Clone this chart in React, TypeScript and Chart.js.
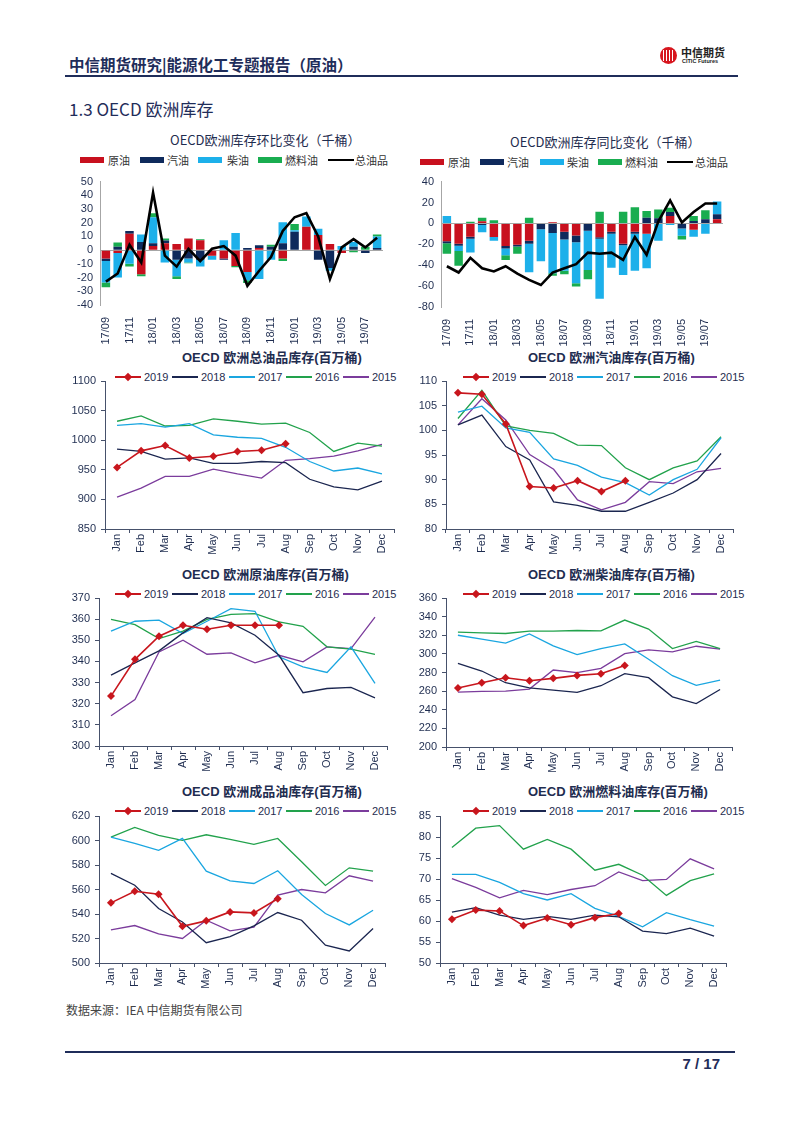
import React, { useEffect, useRef } from "react";
import { Chart, registerables } from "chart.js";

Chart.register(...registerables);

// ---------------- data ----------------
const CHANGE_LABELS = ["17/09", "17/10", "17/11", "17/12", "18/01", "18/02", "18/03", "18/04", "18/05", "18/06", "18/07", "18/08", "18/09", "18/10", "18/11", "18/12", "19/01", "19/02", "19/03", "19/04", "19/05", "19/06", "19/07", "19/08"];
const MONTH_LABELS = ["Jan", "Feb", "Mar", "Apr", "May", "Jun", "Jul", "Aug", "Sep", "Oct", "Nov", "Dec"];
const PRODUCT_NAMES = ["原油", "汽油", "柴油", "燃料油", "总油品"];
const YEAR_NAMES = ["2019", "2018", "2017", "2016", "2015"];

// 环比 (MoM)
const MOM_CRUDE = [-6, -2, 12, -17.5, 3, 5, 4.5, 8.5, 7.3, -4, -6, -11.5, -16, 1.5, 0, -6, 0, 17, 11, 4.5, -2, 0, 0, 0];
const MOM_GASOLINE = [-2, 2.5, 2, 6, 2, 2, -7, -6, -7, 0, -1, 0, 1.5, 2, 2.5, 5, 13.5, 0, -7, -13, 0, 2.5, -2, 1.5];
const MOM_DIESEL = [-15.5, -18, -10, 5.5, 19, -9, -12, -3, -5, -3, 7.3, 12.5, -6, -21, -7, 15.4, 1, 7.5, 4.6, -2, 3, 3.5, 0, 8.5];
const MOM_FUEL = [-3.5, 3, -2, -1.5, 3, 1.5, -2, -0.5, 0.7, 0, 0, -1, -2, 0, 1.5, -2, 4.5, 0, 0, 0, 0, -1.5, 2.5, 1.5];
const MOM_TOTAL = [-23, -17, 4, -9, 42, -4, -12, 1, -8, 1, 3, -4, -26, -15, -5, 14, 24, 27, 10, -21, 2, 8, 2, 9];

// 同比 (YoY)
const YOY_CRUDE = [-17, -19.5, -12.7, 2, -13, -21.7, -20.5, -16.5, 0, 1, -8, -11.6, 0, -13.3, -8, -19.5, -8, -10, 0, 7, 0, -6, 0, 4];
const YOY_GASOLINE = [-2, -2, -2, -1.5, 0, -2.3, -1.5, -3, -5.5, -9.2, -7.5, -6.4, -7, -1.5, -2, -1.5, -2, 5.5, 5, 3.8, -4.8, 2.4, 4, 4.7];
const YOY_DIESEL = [7, -5, -13.2, -7, -3.5, -6.5, 0, -27.3, -30.7, -38.6, -29.8, -39.2, -37.6, -57.2, -32.4, -28.3, -35.2, -33, -16.5, -1.5, -6.9, -6.7, -10, 12.2];
const YOY_FUEL = [-10, -14, 1.5, 3.5, 3, -4.5, -7, 5.5, 0, -2.2, -3.4, -3.1, -8.8, 11.2, 0, 11.2, 15.5, 6.3, 8.3, 4.2, -3.8, 4.7, 8.7, 0];
const YOY_TOTAL = [-41, -47, -33, -43, -46, -41, -48, -54, -59, -47, -43, -39, -28, -29, -28, -35, -13, -30, 2, 22, 1, 11, 19, 19];

// 总油品库存
const TOTAL_2019 = [954, 982, 991, 970, 973, 981, 983, 994];
const TOTAL_2018 = [985, 981, 968, 970, 961, 961, 964, 962, 934, 921, 916, 931];
const TOTAL_2017 = [1025, 1028, 1022, 1028, 1009, 1005, 1003, 988, 964, 948, 953, 943];
const TOTAL_2016 = [1032, 1041, 1024, 1025, 1036, 1032, 1027, 1029, 1013, 981, 995, 990];
const TOTAL_2015 = [904, 919, 939, 939, 951, 943, 936, 966, 969, 973, 982, 993];

// 汽油库存
const GASOLINE_2019 = [107.6, 107.3, 101.3, 88.6, 88.3, 89.8, 87.6, 89.8];
const GASOLINE_2018 = [101.1, 103.1, 96.7, 94.0, 85.5, 84.8, 83.6, 83.6, 85.4, 87.3, 90.0, 95.3];
const GASOLINE_2017 = [103.7, 104.9, 100.5, 99.6, 94.2, 92.9, 90.5, 89.4, 86.9, 90.0, 92.1, 98.5];
const GASOLINE_2016 = [102.4, 108.1, 100.9, 100.0, 99.4, 97.0, 96.9, 92.4, 90.0, 92.4, 93.8, 98.7];
const GASOLINE_2015 = [101.1, 106.4, 102.1, 95.1, 92.1, 85.9, 83.9, 85.4, 89.6, 89.2, 91.6, 92.3];

// 原油库存
const CRUDE_2019 = [323.6, 341, 351.9, 357.1, 355.2, 357.1, 357.1, 357.1];
const CRUDE_2018 = [333.5, 339.3, 345, 353.5, 360.7, 358.2, 352.4, 342.9, 325.2, 327.2, 327.7, 322.8];
const CRUDE_2017 = [354.3, 359, 359.5, 353.2, 359, 365, 363.7, 342.2, 337.4, 334.8, 346.9, 329.6];
const CRUDE_2016 = [359.9, 357.4, 350.8, 354.3, 359.9, 362.3, 362.6, 358.7, 356.6, 346.9, 345.8, 343.3];
const CRUDE_2015 = [314.3, 322, 344.5, 350, 343.4, 344, 339.3, 342.9, 339.8, 346.9, 346.1, 361];

// 柴油库存
const DIESEL_2019 = [263.3, 269, 274.4, 271.2, 273.7, 276.9, 278.7, 287.4];
const DIESEL_2018 = [289.9, 281.6, 269, 263.6, 261.1, 258.6, 265.8, 278.7, 274.4, 253.9, 246.7, 261.8];
const DIESEL_2017 = [320, 315.8, 311.5, 321.5, 308.6, 299.2, 305.7, 310.7, 294.2, 276.6, 266.1, 271.9];
const DIESEL_2016 = [323.3, 322.6, 321.9, 324.4, 324.4, 325.1, 324.8, 336.3, 326.6, 305.7, 313.3, 305.7];
const DIESEL_2015 = [259, 259.7, 260, 262.2, 282.7, 279.8, 284.5, 300.3, 304.3, 302.1, 308.2, 305];

// 成品油库存
const PRODUCTS_2019 = [549.1, 558.6, 556.2, 530, 534.4, 541.7, 540.9, 552.4];
const PRODUCTS_2018 = [573.1, 563.5, 544.5, 533.5, 516.6, 521.6, 530.3, 541.2, 534.9, 514.5, 509.8, 528.1];
const PRODUCTS_2017 = [602.8, 597.6, 591.9, 601.7, 575, 567.1, 564.9, 575.3, 555.9, 540.4, 531.1, 543.1];
const PRODUCTS_2016 = [602.8, 610.7, 604.2, 600.1, 604.7, 600.9, 596.8, 601.7, 582.6, 563.3, 577.7, 575];
const PRODUCTS_2015 = [527, 530.6, 523.7, 520, 534.9, 526.2, 529.2, 555.4, 560, 557.3, 571.2, 566.8];

// 燃料油库存
const FUEL_2019 = [60.4, 62.6, 62.4, 58.9, 60.7, 59.1, 60.8, 61.8];
const FUEL_2018 = [62.1, 63.2, 61.4, 60.4, 61.1, 60.4, 61.4, 61.0, 57.6, 57.0, 58.3, 56.4];
const FUEL_2017 = [71.1, 71.1, 69.2, 66.5, 65.0, 66.5, 63.0, 61.1, 58.6, 62.0, 60.3, 58.8];
const FUEL_2016 = [77.5, 82.1, 82.7, 77.1, 79.4, 77.1, 72.1, 73.5, 70.9, 66.1, 69.6, 71.2];
const FUEL_2015 = [70.1, 68.0, 65.5, 67.3, 66.3, 67.5, 68.4, 71.7, 69.6, 69.9, 74.8, 72.4];

// ---------------- styles ----------------
const TXT = "#1F2D50";
const AXIS = "#46516B";
const FONT_LATIN = "'Liberation Sans', Arial, 'Noto Sans CJK SC', sans-serif";
const FONT_CJK = "'Noto Sans CJK SC', 'Liberation Sans', sans-serif";
const BAR_COLORS = ["#C8101E", "#0F2A5C", "#1DB0EA", "#19AD50"];
const YEAR_COLORS = ["#C8161D", "#1B2650", "#1AA6E0", "#22A24C", "#7B3C9C"];

type Geo = { cx: number; cy: number; w: number; h: number; pl: number; pr: number; pt: number; pb: number };

function padding(g: Geo) {
  return { left: 0, top: g.pt - g.cy, right: g.cx + g.w - g.pr, bottom: 0 };
}

const plainNumber = (v: any) => String(v);

function barConfig(g: Geo, series: number[][], total: number[], min: number, max: number, step: number) {
  const datasets: any[] = series.map((d, i) => ({
    type: "bar",
    label: PRODUCT_NAMES[i],
    data: d,
    backgroundColor: BAR_COLORS[i],
    borderWidth: 0,
    barPercentage: 0.72,
    categoryPercentage: 1,
    stack: "s",
    order: 1,
  }));
  datasets.push({
    type: "line",
    label: PRODUCT_NAMES[4],
    data: total,
    borderColor: "#000000",
    borderWidth: 2.6,
    pointRadius: 0,
    tension: 0,
    fill: false,
    stack: "t",
    order: 0,
  });
  return {
    type: "bar",
    data: { labels: CHANGE_LABELS, datasets },
    options: {
      responsive: false,
      animation: false,
      devicePixelRatio: 1,
      layout: { padding: padding(g) },
      plugins: { legend: { display: false }, title: { display: false }, tooltip: { enabled: false } },
      scales: {
        x: {
          stacked: true,
          grid: { display: false },
          border: { display: false },
          ticks: {
            autoSkip: false,
            minRotation: 90,
            maxRotation: 90,
            padding: 4,
            color: TXT,
            font: { family: FONT_LATIN, size: 11 },
            callback: (_v: any, i: number) => (i % 2 === 0 ? CHANGE_LABELS[i] : ""),
          },
          afterFit: (s: any) => { s.height = g.cy + g.h - g.pb; },
        },
        y: {
          stacked: true,
          min,
          max,
          ticks: { stepSize: step, autoSkip: false, padding: 7, color: TXT, font: { family: FONT_LATIN, size: 11 }, callback: plainNumber },
          grid: {
            drawTicks: false,
            lineWidth: 1,
            color: (c: any) => (c.tick && c.tick.value === 0 ? "#A6A6A6" : "rgba(0,0,0,0)"),
          },
          border: { display: true, color: "#A6A6A6" },
          afterFit: (s: any) => { s.width = g.pl - g.cx; },
        },
      },
    },
  };
}

function lineConfig(g: Geo, series: number[][], min: number, max: number, step: number) {
  const datasets = series.map((d, i) => ({
    label: YEAR_NAMES[i],
    data: d,
    borderColor: YEAR_COLORS[i],
    backgroundColor: YEAR_COLORS[i],
    borderWidth: i === 0 ? 1.6 : 1.3,
    pointRadius: i === 0 ? 4 : 0,
    pointStyle: "rectRot",
    pointBorderWidth: 0,
    tension: 0,
    fill: false,
    order: i === 0 ? 0 : i,
  }));
  return {
    type: "line",
    data: { labels: MONTH_LABELS, datasets },
    options: {
      responsive: false,
      animation: false,
      devicePixelRatio: 1,
      layout: { padding: padding(g) },
      plugins: { legend: { display: false }, title: { display: false }, tooltip: { enabled: false } },
      scales: {
        x: {
          offset: true,
          grid: { display: true, drawOnChartArea: false, drawTicks: true, tickLength: 4, color: AXIS, offset: true },
          border: { display: true, color: AXIS },
          ticks: {
            autoSkip: false,
            minRotation: 90,
            maxRotation: 90,
            padding: 1,
            color: TXT,
            font: { family: FONT_LATIN, size: 11 },
          },
          afterFit: (s: any) => { s.height = g.cy + g.h - g.pb; },
        },
        y: {
          min,
          max,
          ticks: { stepSize: step, autoSkip: false, padding: 5, color: TXT, font: { family: FONT_LATIN, size: 11 }, callback: plainNumber },
          grid: { drawOnChartArea: false, drawTicks: true, tickLength: 4, color: AXIS },
          border: { display: true, color: AXIS },
          afterFit: (s: any) => { s.width = g.pl - g.cx; },
        },
      },
    },
  };
}

function ChartBox({ geo, config }: { geo: Geo; config: any }) {
  const ref = useRef<HTMLCanvasElement>(null);
  useEffect(() => {
    const chart = new Chart(ref.current as HTMLCanvasElement, config);
    return () => chart.destroy();
  }, []);
  return (
    <div style={{ position: "absolute", left: geo.cx, top: geo.cy, width: geo.w, height: geo.h }}>
      <canvas ref={ref} width={geo.w} height={geo.h} style={{ display: "block", width: geo.w, height: geo.h }} />
    </div>
  );
}

function Txt(p: { x: number; cy: number; size: number; text: string; weight?: number | string; family?: string; color?: string }) {
  const lh = Math.round(p.size * 1.4);
  return (
    <div
      style={{
        position: "absolute",
        left: p.x,
        top: p.cy - lh / 2,
        height: lh,
        lineHeight: lh + "px",
        fontSize: p.size,
        fontWeight: p.weight ?? 400,
        fontFamily: p.family ?? FONT_CJK,
        color: p.color ?? TXT,
        whiteSpace: "nowrap",
      }}
    >
      {p.text}
    </div>
  );
}

function BarLegend({ boxXs, textXs, cy }: { boxXs: number[]; textXs: number[]; cy: number }) {
  return (
    <>
      {PRODUCT_NAMES.map((name, i) => {
        const isLine = i === 4;
        const h = isLine ? 2.6 : 6;
        return (
          <React.Fragment key={name}>
            <div
              style={{
                position: "absolute",
                left: boxXs[i],
                top: cy - h / 2,
                width: isLine ? 26 : 24,
                height: h,
                background: isLine ? "#000" : BAR_COLORS[i],
              }}
            />
            <Txt x={textXs[i]} cy={cy} size={11} text={name} color="#333" />
          </React.Fragment>
        );
      })}
    </>
  );
}

function YearLegend({ x0, cy }: { x0: number; cy: number }) {
  return (
    <>
      {YEAR_NAMES.map((name, i) => {
        const x = x0 + i * 57;
        return (
          <React.Fragment key={name}>
            <div style={{ position: "absolute", left: x, top: cy - 0.75, width: 26, height: 1.5, background: YEAR_COLORS[i] }} />
            {i === 0 && (
              <div
                style={{
                  position: "absolute",
                  left: x + 13 - 3,
                  top: cy - 3,
                  width: 6,
                  height: 6,
                  background: YEAR_COLORS[0],
                  transform: "rotate(45deg)",
                }}
              />
            )}
            <Txt x={x + 29} cy={cy} size={11} text={name} family={FONT_LATIN} />
          </React.Fragment>
        );
      })}
    </>
  );
}

// chart geometries
const G1: Geo = { cx: 60, cy: 168, w: 340, h: 180, pl: 100, pr: 383, pt: 178, pb: 305 };
const G2: Geo = { cx: 400, cy: 168, w: 345, h: 180, pl: 441, pr: 723, pt: 180, pb: 307 };
const G3: Geo = { cx: 60, cy: 368, w: 340, h: 192, pl: 105, pr: 394, pt: 381, pb: 529 };
const G4: Geo = { cx: 400, cy: 368, w: 345, h: 192, pl: 446, pr: 733, pt: 381, pb: 529 };
const G5: Geo = { cx: 60, cy: 585, w: 340, h: 192, pl: 99, pr: 387, pt: 598, pb: 746 };
const G6: Geo = { cx: 400, cy: 585, w: 345, h: 192, pl: 446, pr: 732, pt: 598, pb: 747 };
const G7: Geo = { cx: 60, cy: 803, w: 340, h: 192, pl: 99, pr: 385, pt: 816, pb: 963 };
const G8: Geo = { cx: 400, cy: 803, w: 345, h: 192, pl: 440, pr: 726, pt: 816, pb: 963 };

export default function App() {
  const c1 = barConfig(G1, [MOM_CRUDE, MOM_GASOLINE, MOM_DIESEL, MOM_FUEL], MOM_TOTAL, -40, 50, 10);
  const c2 = barConfig(G2, [YOY_CRUDE, YOY_GASOLINE, YOY_DIESEL, YOY_FUEL], YOY_TOTAL, -80, 40, 20);
  const c3 = lineConfig(G3, [TOTAL_2019, TOTAL_2018, TOTAL_2017, TOTAL_2016, TOTAL_2015], 850, 1100, 50);
  const c4 = lineConfig(G4, [GASOLINE_2019, GASOLINE_2018, GASOLINE_2017, GASOLINE_2016, GASOLINE_2015], 80, 110, 5);
  const c5 = lineConfig(G5, [CRUDE_2019, CRUDE_2018, CRUDE_2017, CRUDE_2016, CRUDE_2015], 300, 370, 10);
  const c6 = lineConfig(G6, [DIESEL_2019, DIESEL_2018, DIESEL_2017, DIESEL_2016, DIESEL_2015], 200, 360, 20);
  const c7 = lineConfig(G7, [PRODUCTS_2019, PRODUCTS_2018, PRODUCTS_2017, PRODUCTS_2016, PRODUCTS_2015], 500, 620, 20);
  const c8 = lineConfig(G8, [FUEL_2019, FUEL_2018, FUEL_2017, FUEL_2016, FUEL_2015], 50, 85, 5);

  return (
    <div
      style={{
        position: "absolute",
        left: 0,
        top: 0,
        width: 802,
        height: 1133,
        background: "#ffffff",
        overflow: "hidden",
        fontFamily: FONT_CJK,
      }}
    >
      {/* header */}
      <Txt x={69} cy={64} size={15.5} text="中信期货研究|能源化工专题报告（原油）" weight={700} color="#1F2D5A" />
      <div style={{ position: "absolute", left: 660, top: 47, width: 17, height: 17, borderRadius: "50%", background: "#D7161E", overflow: "hidden" }}>
        {[3, 6, 9, 12].map((x) => (
          <div key={x} style={{ position: "absolute", left: x, top: 3, width: 1.4, height: 11, background: "#fff" }} />
        ))}
      </div>
      <Txt x={681} cy={52} size={11} text="中信期货" weight={700} color="#222" />
      <Txt x={682} cy={61} size={5.5} text="CITIC Futures" weight={700} family={FONT_LATIN} color="#222" />
      <div style={{ position: "absolute", left: 65, top: 75, width: 673, height: 1.5, background: "#1F2D5A" }} />

      <Txt x={69} cy={109} size={17} text="1.3 OECD 欧洲库存" color="#1F2D5A" />

      {/* chart 1 */}
      <Txt x={170} cy={140} size={13} text="OECD欧洲库存环比变化（千桶）" />
      <BarLegend boxXs={[80, 140, 198, 258, 328]} textXs={[108, 167, 227, 285, 355]} cy={160} />
      <ChartBox geo={G1} config={c1} />

      {/* chart 2 */}
      <Txt x={510} cy={142} size={13} text="OECD欧洲库存同比变化（千桶）" />
      <BarLegend boxXs={[420, 480, 540, 598, 667]} textXs={[448, 507, 567, 625, 695]} cy={162} />
      <ChartBox geo={G2} config={c2} />

      {/* chart 3 */}
      <Txt x={182} cy={358} size={13} weight={700} family={FONT_LATIN} text="OECD 欧洲总油品库存(百万桶)" />
      <YearLegend x0={115} cy={377} />
      <ChartBox geo={G3} config={c3} />

      {/* chart 4 */}
      <Txt x={528} cy={358} size={13} weight={700} family={FONT_LATIN} text="OECD 欧洲汽油库存(百万桶)" />
      <YearLegend x0={463} cy={377} />
      <ChartBox geo={G4} config={c4} />

      {/* chart 5 */}
      <Txt x={182} cy={575} size={13} weight={700} family={FONT_LATIN} text="OECD 欧洲原油库存(百万桶)" />
      <YearLegend x0={115} cy={594} />
      <ChartBox geo={G5} config={c5} />

      {/* chart 6 */}
      <Txt x={528} cy={575} size={13} weight={700} family={FONT_LATIN} text="OECD 欧洲柴油库存(百万桶)" />
      <YearLegend x0={463} cy={594} />
      <ChartBox geo={G6} config={c6} />

      {/* chart 7 */}
      <Txt x={182} cy={792} size={13} weight={700} family={FONT_LATIN} text="OECD 欧洲成品油库存(百万桶)" />
      <YearLegend x0={115} cy={811} />
      <ChartBox geo={G7} config={c7} />

      {/* chart 8 */}
      <Txt x={528} cy={792} size={13} weight={700} family={FONT_LATIN} text="OECD 欧洲燃料油库存(百万桶)" />
      <YearLegend x0={463} cy={811} />
      <ChartBox geo={G8} config={c8} />

      {/* footer */}
      <Txt x={66} cy={1009} size={12} text="数据来源：IEA 中信期货有限公司" color="#444" />
      <div style={{ position: "absolute", left: 65, top: 1051, width: 670, height: 1.5, background: "#1F2D5A" }} />
      <div
        style={{
          position: "absolute",
          right: 802 - 720,
          top: 1055,
          lineHeight: "18px",
          fontSize: 15,
          fontWeight: 700,
          color: "#1F2D5A",
          fontFamily: FONT_LATIN,
        }}
      >
        7 / 17
      </div>
    </div>
  );
}
